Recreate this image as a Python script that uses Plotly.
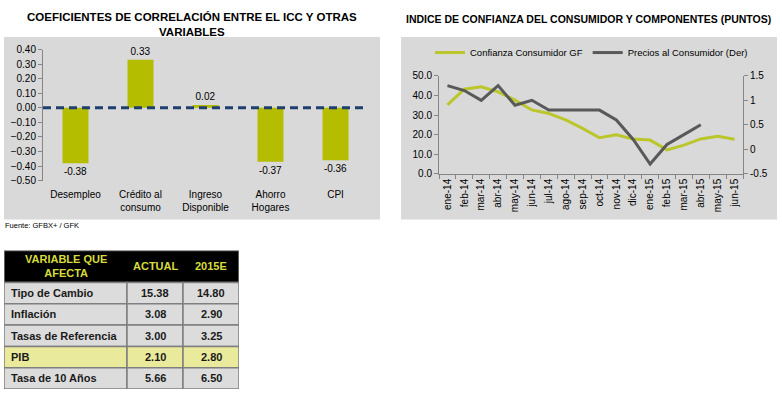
import plotly.graph_objects as go

# ---------- data ----------
corr_cats = ["Desempleo", "Crédito al<br>consumo", "Ingreso<br>Disponible", "Ahorro<br>Hogares", "CPI"]
corr_vals = [-0.38, 0.33, 0.02, -0.37, -0.36]

months = ["ene-14", "feb-14", "mar-14", "abr-14", "may-14", "jun-14", "jul-14", "ago-14", "sep-14",
          "oct-14", "nov-14", "dic-14", "ene-15", "feb-15", "mar-15", "abr-15", "may-15", "jun-15"]
confianza = [35.2, 43.2, 44.4, 41.8, 37.6, 32.6, 30.8, 27.5, 23.2, 18.4, 19.9, 17.7, 17.2, 12.2, 14.6, 17.8, 19.1, 17.6]
precios = [1.3, 1.2, 1.0, 1.3, 0.9, 1.0, 0.8, 0.8, 0.8, 0.8, 0.6, 0.2, -0.3, 0.1, 0.3, 0.5, None, None]

tab_header = ["VARIABLE QUE<br>AFECTA", "ACTUAL", "2015E"]
tab_vars = ["Tipo de Cambio", "Inflación", "Tasas de Referencia", "PIB", "Tasa de 10 Años"]
tab_actual = ["15.38", "3.08", "3.00", "2.10", "5.66"]
tab_2015e = ["14.80", "2.90", "3.25", "2.80", "6.50"]

W, H = 782, 399
def px(x): return x / W
def py(y): return 1 - y / H

FONT = "Liberation Sans"
BAR = "#B5BD00"
GREEN = "#BAC62A"
GRAY_LINE = "#595959"
PANEL = "#D9D9D9"

fig = go.Figure()

# ---------- left chart ----------
fig.add_trace(go.Bar(
    x=list(range(len(corr_cats))), y=corr_vals, width=0.4,
    marker=dict(color=BAR, line=dict(width=0)),
    text=[f"{v:.2f}" for v in corr_vals], textposition="outside",
    textfont=dict(family=FONT, size=10, color="black"), cliponaxis=False,
    xaxis="x", yaxis="y", showlegend=False, hoverinfo="skip"))

# ---------- right chart ----------
fig.add_trace(go.Scatter(
    x=months, y=confianza, mode="lines", name="Confianza Consumidor GF",
    line=dict(color=GREEN, width=3), xaxis="x2", yaxis="y2"))
fig.add_trace(go.Scatter(
    x=months, y=precios, mode="lines", name="Precios al Consumidor (Der)",
    line=dict(color=GRAY_LINE, width=3), xaxis="x2", yaxis="y3"))

shapes = [
    dict(type="rect", xref="paper", yref="paper", x0=px(4), x1=px(380), y0=py(220), y1=py(32),
         fillcolor=PANEL, line=dict(width=0), layer="below"),
    dict(type="rect", xref="paper", yref="paper", x0=px(401), x1=px(777), y0=py(220), y1=py(32),
         fillcolor=PANEL, line=dict(width=0), layer="below"),
    dict(type="line", xref="x domain", yref="y", x0=0, x1=1, y0=0, y1=0,
         line=dict(color="#1F3F6E", width=3, dash="8px,5px")),
]

annotations = [
    dict(text="<b>COEFICIENTES DE CORRELACIÓN ENTRE EL ICC Y OTRAS<br>VARIABLES</b>",
         xref="paper", yref="paper", x=px(192), y=py(19), xanchor="center", yanchor="middle",
         showarrow=False, font=dict(family=FONT, size=11.5, color="black")),
    dict(text="<b>INDICE DE CONFIANZA DEL CONSUMIDOR Y COMPONENTES (PUNTOS)</b>",
         xref="paper", yref="paper", x=px(588), y=py(13), xanchor="center", yanchor="middle",
         showarrow=False, font=dict(family=FONT, size=10.5, color="black")),
    dict(text="Fuente: GFBX+ / GFK", xref="paper", yref="paper", x=px(3), y=py(226),
         xanchor="left", yanchor="middle", showarrow=False,
         font=dict(family=FONT, size=7.5, color="black")),
]

# ---------- table (cells on their own axes x3 / y4, units = pixels) ----------
col_w = [123, 56, 56]
head_h, row_h = 33, 22
col_edges = [0]
for w in col_w:
    col_edges.append(col_edges[-1] + w)
BORDER = "#7F7F7F"
# header
shapes.append(dict(type="rect", xref="x3", yref="y4", x0=0, x1=col_edges[-1], y0=0, y1=head_h,
                   fillcolor="black", line=dict(color=BORDER, width=1.5)))
for j, h in enumerate(tab_header):
    annotations.append(dict(text=f"<b>{h}</b>", xref="x3", yref="y4",
                            x=(col_edges[j] + col_edges[j + 1]) / 2, y=head_h / 2,
                            xanchor="center", yanchor="middle", align="center", showarrow=False,
                            font=dict(family=FONT, size=11, color="#D7DC3C")))
# body
cols = [tab_vars, tab_actual, tab_2015e]
for i, var in enumerate(tab_vars):
    fill = "#EAEA9C" if var == "PIB" else "#DCDCDC"
    y0 = head_h + i * row_h
    for j in range(3):
        shapes.append(dict(type="rect", xref="x3", yref="y4", x0=col_edges[j], x1=col_edges[j + 1],
                           y0=y0, y1=y0 + row_h, fillcolor=fill,
                           line=dict(color=BORDER, width=1.5)))
        if j == 0:
            x, xa = col_edges[0] + 5, "left"
        else:
            x, xa = (col_edges[j] + col_edges[j + 1]) / 2, "center"
        annotations.append(dict(text=f"<b>{cols[j][i]}</b>", xref="x3", yref="y4",
                                x=x, y=y0 + row_h / 2, xanchor=xa, yanchor="middle",
                                showarrow=False, font=dict(family=FONT, size=11, color="#1A1A1A")))
tab_total_h = head_h + row_h * len(tab_vars)

tickfont = dict(family=FONT, size=10, color="black")
fig.update_layout(
    width=W, height=H, margin=dict(l=0, r=0, t=0, b=0),
    paper_bgcolor="white", plot_bgcolor="rgba(0,0,0,0)",
    shapes=shapes, annotations=annotations, hovermode=False,
    xaxis=dict(domain=[px(43), px(368)], range=[-0.5, 4.5], tickmode="array",
               tickvals=list(range(len(corr_cats))), ticktext=corr_cats,
               showline=False, showgrid=False, zeroline=False, ticks="",
               ticklabelstandoff=6, tickfont=tickfont, anchor="y", fixedrange=True),
    yaxis=dict(domain=[py(180), py(45)], range=[-0.5, 0.4], dtick=0.1, tick0=0,
               tickformat=".2f", showline=True, linecolor="#868686", linewidth=1,
               ticks="outside", ticklen=4, tickcolor="#868686", showgrid=False,
               zeroline=False, tickfont=tickfont, anchor="x"),
    xaxis2=dict(domain=[px(439), px(743)], range=[-0.5, 17.5], type="category",
                tickangle=-90, showline=True, linecolor="#868686", linewidth=1,
                ticks="outside", ticklen=4, tickcolor="#868686", tickson="boundaries",
                showgrid=False, zeroline=False, tickfont=tickfont, anchor="y2"),
    yaxis2=dict(domain=[py(173), py(72)], range=[0, 50], dtick=10, tickformat=".1f",
                showline=True, linecolor="#868686", linewidth=1, ticks="outside",
                ticklen=4, tickcolor="#868686", showgrid=False, zeroline=False,
                tickfont=tickfont, anchor="x2"),
    yaxis3=dict(overlaying="y2", side="right", anchor="x2", range=[-0.5, 1.5],
                tickmode="array", tickvals=[-0.5, 0, 0.5, 1, 1.5],
                ticktext=["-0.5", "0", "0.5", "1", "1.5"],
                showline=True, linecolor="#868686", linewidth=1, ticks="outside",
                ticklen=4, tickcolor="#868686", showgrid=False, zeroline=False,
                tickfont=tickfont),
    xaxis3=dict(domain=[px(4), px(239)], range=[0, col_edges[-1]], visible=False,
                anchor="y4", fixedrange=True),
    yaxis4=dict(domain=[py(395), py(252)], range=[tab_total_h, 0], visible=False,
                anchor="x3", fixedrange=True),
    legend=dict(orientation="h", x=px(430), y=py(48), xanchor="left", yanchor="middle",
                bgcolor="rgba(0,0,0,0)", font=dict(family=FONT, size=9.5, color="black"),
                itemwidth=30, tracegroupgap=0),
)

fig.write_html("out.html", config={"displayModeBar": False},
               post_script="document.body.style.margin='0';document.body.style.overflow='hidden';")
